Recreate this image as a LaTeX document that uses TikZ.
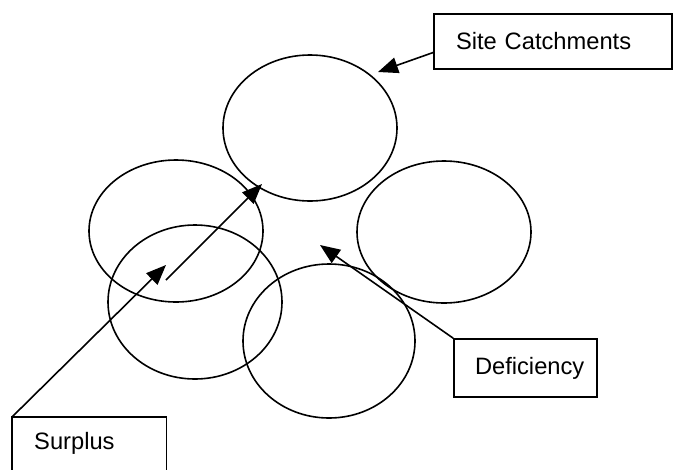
\documentclass[tikz,border=0pt]{standalone}
\usepackage{fontspec}
\setmainfont{Liberation Sans}
\usetikzlibrary{arrows.meta}
\tikzset{
  catch/.style={draw=black, line width=1.6pt},
  labelbox/.style={draw=black, line width=1.6pt, rectangle, align=left, font=\fontsize{23.7pt}{28pt}\selectfont},
  pointer/.style={draw=black, line width=1.6pt, -{Triangle[length=20pt,width=16pt]}},
}
\begin{document}
\begin{tikzpicture}[x=1pt,y=-1pt]
\useasboundingbox (0,0) rectangle (674,469);
\clip (0,0) rectangle (674,469);
\fill[white] (0,0) rectangle (674,469);
% catchment ellipses
\draw[catch] (310,128) ellipse [x radius=87pt, y radius=73pt];
\draw[catch] (176,231) ellipse [x radius=87pt, y radius=71pt];
\draw[catch] (195,302) ellipse [x radius=87pt, y radius=77pt];
\draw[catch] (444,232) ellipse [x radius=87pt, y radius=71pt];
\draw[catch] (329,341) ellipse [x radius=86pt, y radius=77pt];
% label boxes
\node[labelbox, minimum width=238pt, minimum height=55pt, text width=194pt, inner xsep=22pt, inner ysep=0pt] (site) at (553,41.5) {Site Catchments};
\node[labelbox, minimum width=143pt, minimum height=58pt, text width=101pt, inner xsep=21pt, inner ysep=0pt] (def) at (525.5,368) {Deficiency};
\node[draw=none, rectangle, align=left, font=\fontsize{23.7pt}{28pt}\selectfont, anchor=north west, minimum width=154pt, minimum height=52pt, text width=110pt, inner xsep=22pt, inner ysep=0pt] (surplus) at (12,417) {Surplus};
\draw[line width=1.6pt] ([yshift=-30pt]surplus.south west) -- (surplus.north west) -- (surplus.north east) -- ([yshift=-30pt]surplus.south east);
% arrow end points
\coordinate (siteTip) at (378,72);
\coordinate (defTip) at (320,245);
\coordinate (surTip) at (166,265);
\coordinate (innerStart) at (166,280);
\coordinate (innerTip) at (262,184);
% connectors
\draw[pointer] ([yshift=-11pt]site.west) -- (siteTip);
\draw[pointer] (def.north west) -- (defTip);
\draw[pointer] (surplus.north west) -- (surTip);
\draw[pointer] (innerStart) -- (innerTip);
\end{tikzpicture}
\end{document}
